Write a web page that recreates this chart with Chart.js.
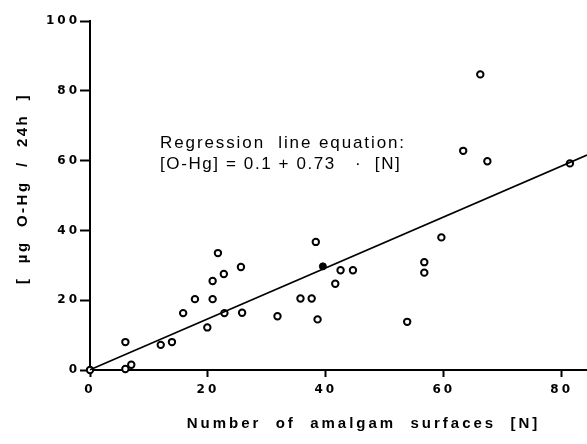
<!DOCTYPE html>
<html>
<head>
<meta charset="utf-8">
<script src="https://cdn.jsdelivr.net/npm/chart.js@4"></script>
<style>
    html, body { margin: 0; padding: 0; background: #fff; }
    #wrap { width: 587px; height: 444px; }
</style>
</head>
<body>
<div id="wrap"><canvas id="chart"></canvas></div>
<script>
// amalgam surfaces [N] vs urine mercury [µg O-Hg / 24h]
const surfaces = [0, 6, 6, 7, 12, 13.9, 15.8, 17.8, 19.9, 20.8, 20.8, 21.7, 22.7, 22.8, 25.6, 25.8,
    31.8, 35.7, 37.6, 38.3, 38.6, 41.6, 42.5, 44.6, 53.8, 56.7, 56.7, 59.6, 63.3, 66.2, 67.4, 81.4];
const mercury = [0, 8, 0.3, 1.5, 7.2, 8, 16.3, 20.3, 12.2, 20.3, 25.5, 33.5, 27.5, 16.3, 29.5, 16.4,
    15.4, 20.5, 20.5, 36.7, 14.5, 24.7, 28.6, 28.6, 13.8, 30.9, 27.9, 38, 62.8, 84.7, 59.8, 59.2];

// mean point (filled)
const meanX = [39.5];
const meanY = [29.7];

// regression line end points
const lineX = [0, 84.3];
const lineY = [0.1, 61.6];

const xTicks = [0, 20, 40, 60, 80];
const yTicks = [0, 20, 40, 60, 80, 100];

const equationLines = ['Regression  line equation:', '[O-Hg] = 0.1 + 0.73   \u00b7  [N]'];

const tickFont = { family: 'DejaVu Sans', size: 12, weight: 'bold' };
const titleFont = { family: 'Liberation Sans', size: 15, weight: 'bold' };

const spacing = {
    id: 'spacing',
    afterLayout(chart) {
        Object.values(chart.scales).forEach(s => {
            if (s._spaced) return;
            const orig = s.drawTitle;
            s.drawTitle = function () {
                const ctx = this.ctx;
                ctx.save();
                if (this.axis === 'x') {
                    ctx.letterSpacing = '3px';
                    ctx.translate(25, 0);
                } else {
                    ctx.letterSpacing = '2.5px';
                    ctx.translate(0, -7);
                }
                orig.apply(this, arguments);
                ctx.restore();
                ctx.letterSpacing = '3px';
            };
            s._spaced = true;
        });
    },
    beforeDraw(chart) {
        chart.ctx.letterSpacing = '3px';
    },
    afterDraw(chart) {
        const ctx = chart.ctx;
        ctx.save();
        ctx.font = '17px "Liberation Sans"';
        ctx.fillStyle = '#000';
        ctx.textBaseline = 'alphabetic';
        ctx.letterSpacing = '1.9px';
        ctx.fillText(equationLines[0], 160, 148);
        ctx.letterSpacing = '1.6px';
        ctx.fillText(equationLines[1], 160, 169);
        ctx.restore();
        ctx.letterSpacing = '0px';
    }
};

new Chart(document.getElementById('chart'), {
    type: 'scatter',
    data: {
        datasets: [{
            label: 'Regression',
            type: 'line',
            data: lineX.map((x, i) => ({ x: x, y: lineY[i] })),
            borderColor: '#000',
            borderWidth: 1.6,
            pointRadius: 0,
            fill: false
        }, {
            label: 'Mean',
            data: meanX.map((x, i) => ({ x: x, y: meanY[i] })),
            backgroundColor: '#000',
            borderColor: '#000',
            pointRadius: 3.5,
            borderWidth: 1
        }, {
            label: 'Patients',
            data: surfaces.map((x, i) => ({ x: x, y: mercury[i] })),
            backgroundColor: '#fff',
            borderColor: '#000',
            borderWidth: 2,
            pointRadius: 3.2
        }]
    },
    options: {
        responsive: true,
        maintainAspectRatio: false,
        animation: false,
        clip: false,
        layout: { autoPadding: false, padding: { top: 21, right: 0, left: 0, bottom: 0 } },
        plugins: {
            legend: { display: false },
            tooltip: { enabled: false }
        },
        scales: {
            x: {
                type: 'linear',
                min: 0,
                max: 84.3,
                afterFit: s => { s.height = 74; },
                afterBuildTicks: s => { s.ticks = xTicks.map(v => ({ value: v })); },
                ticks: { color: '#000', font: tickFont, padding: 6, maxRotation: 0 },
                grid: { drawOnChartArea: false, tickLength: 7, tickWidth: 2, tickColor: '#000' },
                border: { color: '#000', width: 2 },
                title: {
                    display: true,
                    text: 'Number  of  amalgam  surfaces  [N]',
                    color: '#000',
                    font: titleFont,
                    padding: { top: 0, bottom: 11 }
                }
            },
            y: {
                min: 0,
                max: 100,
                afterFit: s => { s.width = 90; },
                afterBuildTicks: s => { s.ticks = yTicks.map(v => ({ value: v })); },
                ticks: { color: '#000', font: tickFont, padding: 0 },
                grid: { drawOnChartArea: false, tickLength: 10, tickWidth: 2, tickColor: '#000' },
                border: { color: '#000', width: 2 },
                title: {
                    display: true,
                    text: '[  \u00b5g  O-Hg  /  24h  ]',
                    color: '#000',
                    font: titleFont,
                    padding: { top: 14, bottom: 0 }
                }
            }
        }
    },
    plugins: [spacing]
});
</script>
</body>
</html>
